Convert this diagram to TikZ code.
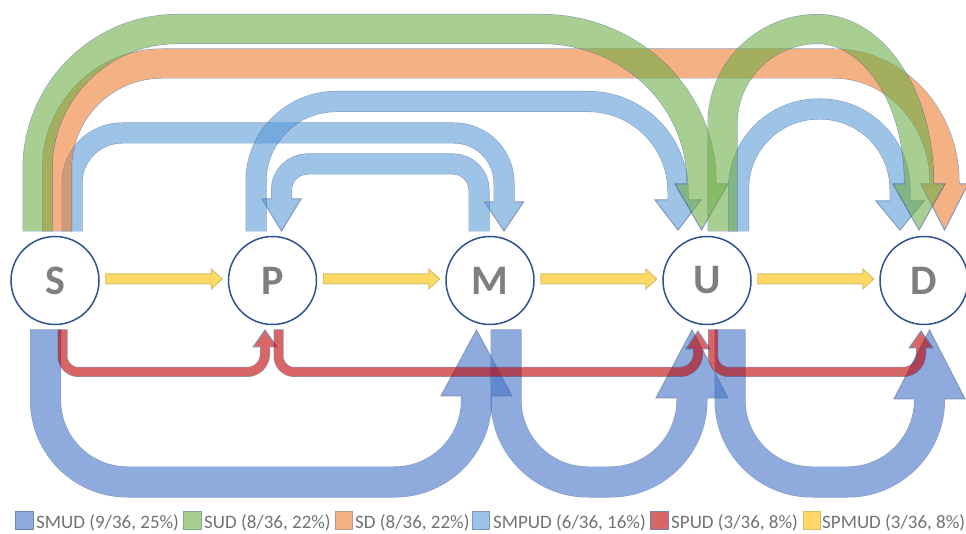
\documentclass[tikz,border=0pt]{standalone}
\usepackage{fontspec}
\setmainfont{Carlito}
\usetikzlibrary{calc}
\definecolor{cSMUD}{HTML}{4472C4}
\definecolor{cSUD}{HTML}{70AD47}
\definecolor{cSD}{HTML}{ED7D31}
\definecolor{cSMPUD}{HTML}{5B9BD5}
\definecolor{cSPUD}{HTML}{C00000}
\definecolor{cSPMUD}{HTML}{FFC000}
\definecolor{yedge}{HTML}{BF9000}
\definecolor{edgec}{HTML}{2F528F}
\definecolor{labelgray}{HTML}{7F7F7F}
\definecolor{legendgray}{HTML}{727272}
% #1 colour, #2 band width, #3 centre-line path, #4 head polygon
\newcommand\bandarrow[4]{%
  \begin{scope}[transparency group, opacity=0.6]
    \draw[draw=edgec, line width=#2pt+1pt, shorten <=-0.5pt] #3;
    \filldraw[fill=#1, draw=edgec, line width=1pt, line join=miter] #4 -- cycle;
    \draw[draw=#1, line width=#2pt, shorten >=-1.2pt] #3;
  \end{scope}}
\newcommand\yelarrow[2]{%
  \coordinate (ya) at ($(#1.east)+(6,1.5)$);
  \coordinate (yb) at ($(#2.west)+(-5.5,1.5)$);
  \begin{scope}[transparency group, opacity=0.6]
    \filldraw[fill=cSPMUD, draw=yedge, line width=1pt]
      ($(ya)+(0,-5)$) -- ($(yb)+(-11,-5)$) -- ($(yb)+(-11,-10)$) -- (yb)
      -- ($(yb)+(-11,10)$) -- ($(yb)+(-11,5)$) -- ($(ya)+(0,5)$) -- cycle;
  \end{scope}}
\begin{document}
\begin{tikzpicture}[x=1pt,y=1pt,
  nodec/.style={circle, draw=edgec, line width=1.5pt, fill=white, minimum size=88pt,
    inner sep=0pt, font=\fontsize{42}{42}\selectfont\bfseries, text=labelgray},
  legtext/.style={anchor=base west, inner sep=0pt, font=\fontsize{19}{19}\selectfont, text=legendgray},
  legbox/.style={line width=1pt}]
\useasboundingbox (0,0) rectangle (966,533);

% ---- top: SMPUD (light blue)
\bandarrow{cSMPUD}{20}{(72,302) -- (72,350) arc[start angle=180,end angle=90,radius=50pt] -- (454,400) arc[start angle=90,end angle=0,radius=50pt] -- (504,331)}{(484.5,331) -- (504,302) -- (523.5,331)}
\bandarrow{cSMPUD}{20}{(479,302) -- (479,343) arc[start angle=0,end angle=90,radius=26pt] -- (307.5,369) arc[start angle=90,end angle=180,radius=26pt] -- (281.5,334)}{(262,334) -- (281.5,302) -- (301,334)}
\bandarrow{cSMPUD}{20}{(256,302) -- (256,351.5) arc[start angle=180,end angle=90,radius=80pt] -- (588,431.5) arc[start angle=90,end angle=0,radius=90pt] -- (678,333)}{(655,333) -- (678,303) -- (701,333)}
\bandarrow{cSMPUD}{20}{(738.5,302) -- (738.5,344) arc[start angle=180,end angle=90,radius=80pt] -- (820,424) arc[start angle=90,end angle=0,radius=80pt] -- (900,332)}{(876,332) -- (900,303) -- (924,332)}

% ---- top: SD (orange)
\bandarrow{cSD}{29}{(57,302) -- (57,364.5) arc[start angle=180,end angle=90,radius=105pt] -- (833.5,469.5) arc[start angle=90,end angle=0,x radius=111pt,y radius=118.5pt] -- (944.5,349)}{(921,349) -- (944.5,303) -- (968,349)}

% ---- top: SUD (green)
\bandarrow{cSUD}{29}{(37.5,302) -- (37.5,364) arc[start angle=180,end angle=90,radius=140pt] -- (541.5,504) arc[start angle=90,end angle=0,x radius=160pt,y radius=153pt] -- (701.5,349)}{(675,349) -- (701.5,303) -- (728,349)}
\bandarrow{cSUD}{29}{(722.5,302) -- (722.5,409) arc[start angle=180,end angle=90,radius=95pt] arc[start angle=90,end angle=0,x radius=101.5pt,y radius=153pt] -- (919,349)}{(893,349) -- (919,303) -- (945,349)}

% ---- bottom: SMUD (blue)
\bandarrow{cSMUD}{30}{(45.5,203) -- (45.5,133) arc[start angle=180,end angle=270,radius=82pt] -- (394.5,51) arc[start angle=270,end angle=360,radius=82pt] -- (476.5,137)}{(441,137) -- (476.5,203) -- (512,137)}
\bandarrow{cSMUD}{30}{(506,203) -- (506,133) arc[start angle=180,end angle=270,radius=82pt] -- (610,51) arc[start angle=270,end angle=360,radius=82pt] -- (692,135)}{(656,135) -- (692,203) -- (728,135)}
\bandarrow{cSMUD}{30}{(730,203) -- (730,133) arc[start angle=180,end angle=270,radius=82pt] -- (847.5,51) arc[start angle=270,end angle=360,radius=82pt] -- (929.5,134)}{(894,134) -- (929.5,203) -- (965,134)}

% ---- bottom: SPUD (red)
\bandarrow{cSPUD}{9}{(62.5,203) -- (62.5,177) arc[start angle=180,end angle=270,radius=16pt] -- (247,161) arc[start angle=270,end angle=360,radius=18pt] -- (265,186)}{(253,186) -- (265,203) -- (277,186)}
\bandarrow{cSPUD}{9}{(278.5,203) -- (278.5,177) arc[start angle=180,end angle=270,radius=16pt] -- (680,161) arc[start angle=270,end angle=360,radius=18pt] -- (698,184)}{(686,184) -- (698,202) -- (710,184)}
\bandarrow{cSPUD}{9}{(713,203) -- (713,177) arc[start angle=180,end angle=270,radius=16pt] -- (903,161) arc[start angle=270,end angle=360,radius=18pt] -- (921,185)}{(909,185) -- (921,202) -- (933,185)}

% ---- nodes
\node[nodec] (S) at (55,252.5) {S};
\node[nodec] (P) at (272.5,252.5) {P};
\node[nodec] (M) at (490,252.5) {M};
\node[nodec] (U) at (707,252.5) {U};
\node[nodec] (D) at (924,252.5) {D};

% ---- SPMUD (yellow)
\yelarrow{S}{P}
\yelarrow{P}{M}
\yelarrow{M}{U}
\yelarrow{U}{D}

% ---- legend
\filldraw[legbox, fill=cSMUD!60, draw=edgec!70] (15,4) rectangle (33,22);
\node[legtext] (l1) at (36,5) {SMUD (9/36, 25\%)};
\filldraw[legbox, fill=cSUD!60, draw=edgec!50!cSUD!70] (183,4) rectangle (201,22);
\node[legtext] (l2) at (204,5) {SUD (8/36, 22\%)};
\filldraw[legbox, fill=cSD!60, draw=edgec!40!cSD!70] (335,4) rectangle (352,22);
\node[legtext] (l3) at (355,5) {SD (8/36, 22\%)};
\filldraw[legbox, fill=cSMPUD!60, draw=edgec!60] (472,4) rectangle (489,22);
\node[legtext] (l4) at (493,5) {SMPUD (6/36, 16\%)};
\filldraw[legbox, fill=cSPUD!60, draw=edgec!70] (650,4) rectangle (668,22);
\node[legtext] (l5) at (671,5) {SPUD (3/36, 8\%)};
\filldraw[legbox, fill=cSPMUD!60, draw=yedge!60] (803,4) rectangle (820,22);
\node[legtext] (l6) at (822,5) {SPMUD (3/36, 8\%)};
\end{tikzpicture}
\end{document}
